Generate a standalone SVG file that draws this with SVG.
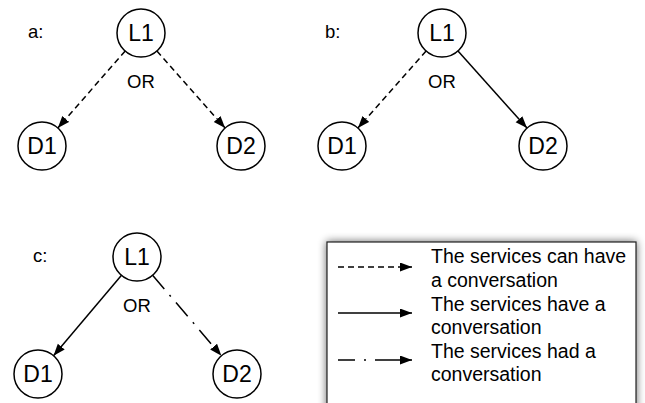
<svg xmlns="http://www.w3.org/2000/svg" width="645" height="403" viewBox="0 0 645 403">
  <defs>
    <marker id="head" markerWidth="13" markerHeight="10" refX="12" refY="4.5" orient="auto" markerUnits="userSpaceOnUse">
      <path d="M0,0 L12,4.5 L0,9 z" fill="#000"/>
    </marker>
    <filter id="shadow" x="-10%" y="-20%" width="120%" height="140%">
      <feGaussianBlur in="SourceAlpha" stdDeviation="4"/>
      <feComponentTransfer><feFuncA type="linear" slope="0.6"/></feComponentTransfer>
      <feMerge><feMergeNode/><feMergeNode in="SourceGraphic"/></feMerge>
    </filter>
  </defs>
  <style>
    .node circle { fill: #fff; stroke: #000; stroke-width: 1.5; }
    .node text { font-family: "Liberation Sans", Arial, sans-serif; font-size: 23px; text-anchor: middle; fill: #000; }
    .lbl { font-family: "Liberation Sans", Arial, sans-serif; font-size: 18.5px; fill: #000; }
    .leg { font-family: "Liberation Sans", Arial, sans-serif; font-size: 19.5px; fill: #000; }
    .edge { stroke: #000; stroke-width: 1.5; fill: none; marker-end: url(#head); }
    .can { stroke-dasharray: 6 4; }
    .had { stroke-dasharray: 18 8 2 8; }
    .had-key { stroke-dasharray: 17 9 2 9 60; }
  </style>
  <rect width="645" height="403" fill="#fff"/>

  <!-- panel labels -->
  <text class="lbl" x="28" y="38">a:</text>
  <text class="lbl" x="325" y="38">b:</text>
  <text class="lbl" x="33" y="262">c:</text>
  <text class="lbl" x="127" y="88">OR</text>
  <text class="lbl" x="428" y="88">OR</text>
  <text class="lbl" x="123" y="312">OR</text>

  <g id="connectors">
    <line class="edge can" x1="125.2" y1="51" x2="57.8" y2="128"/>
    <line class="edge can" x1="156.9" y1="51" x2="225.1" y2="128"/>
    <line class="edge can" x1="426.1" y1="51" x2="357.9" y2="128"/>
    <line class="edge" x1="458" y1="50.9" x2="527" y2="128.1"/>
    <line class="edge" x1="121.5" y1="275.3" x2="53.5" y2="355.7"/>
    <line class="edge had" x1="152.6" y1="275.2" x2="221.4" y2="355.8"/>
  </g>

  <!-- panel a -->
  <g id="a-L1" class="node"><circle cx="141" cy="33" r="24"/><text x="141" y="41">L1</text></g>
  <g id="a-D1" class="node"><circle cx="42" cy="146" r="24"/><text x="42" y="154">D1</text></g>
  <g id="a-D2" class="node"><circle cx="241" cy="146" r="24"/><text x="241" y="154">D2</text></g>

  <!-- panel b -->
  <g id="b-L1" class="node"><circle cx="442" cy="33" r="24"/><text x="442" y="41">L1</text></g>
  <g id="b-D1" class="node"><circle cx="342" cy="146" r="24"/><text x="342" y="154">D1</text></g>
  <g id="b-D2" class="node"><circle cx="543" cy="146" r="24"/><text x="543" y="154">D2</text></g>

  <!-- panel c -->
  <g id="c-L1" class="node"><circle cx="137" cy="257" r="24"/><text x="137" y="265">L1</text></g>
  <g id="c-D1" class="node"><circle cx="38" cy="374" r="24"/><text x="38" y="382">D1</text></g>
  <g id="c-D2" class="node"><circle cx="237" cy="374" r="24"/><text x="237" y="382">D2</text></g>

  <!-- legend -->
  <g id="legend">
    <rect x="327" y="242" width="309" height="175" fill="#fff" stroke="#222" stroke-width="1.2" filter="url(#shadow)"/>
    <line class="edge can" x1="338" y1="267" x2="412" y2="267"/>
    <line class="edge" x1="338" y1="313" x2="412" y2="313"/>
    <line class="edge had-key" x1="338" y1="360" x2="412" y2="360"/>
    <text class="leg" x="431" y="263">The services can have</text>
    <text class="leg" x="431" y="287">a conversation</text>
    <text class="leg" x="431" y="311">The services have a</text>
    <text class="leg" x="431" y="334">conversation</text>
    <text class="leg" x="431" y="358">The services had a</text>
    <text class="leg" x="431" y="381">conversation</text>
  </g>
</svg>
